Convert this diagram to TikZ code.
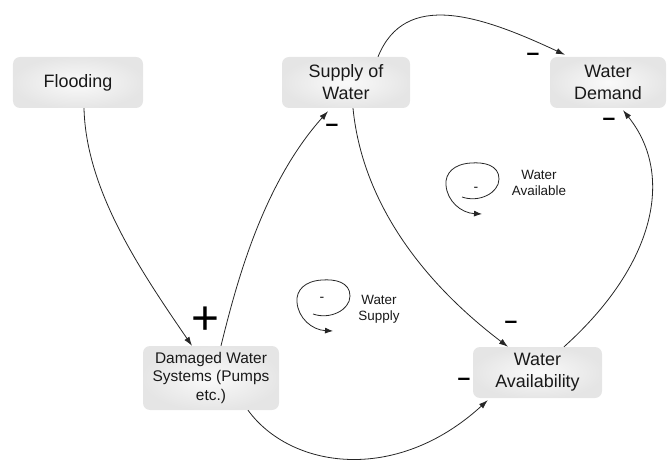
\documentclass[tikz,border=0pt]{standalone}
\usepackage{fontspec}
\setmainfont{Liberation Sans}
\usetikzlibrary{arrows.meta}
\begin{document}
\begin{tikzpicture}[x=1bp,y=-1bp,
  box/.style={rounded corners=7bp, inner color=gray!4, outer color=gray!20, align=center,
    font=\fontsize{18}{22}\selectfont, text=black!90, inner sep=0pt},
  smallbox/.style={box, font=\fontsize{15.5}{18.5}\selectfont},
  link/.style={line width=0.8bp, draw=black!85, -{Latex[length=9bp,width=6bp]}},
  sign/.style={font=\fontsize{23}{23}\selectfont\bfseries, inner sep=0pt, text=black},
  plussign/.style={font=\fontsize{48}{48}\selectfont, inner sep=0pt, text=black},
  looplabel/.style={font=\fontsize{13.5}{16.5}\selectfont, align=center, inner sep=0pt, text=black!90},
  loopminus/.style={font=\fontsize{14}{14}\selectfont, inner sep=0pt, text=black!90},
  loopsym/.pic={
    \draw[line width=0.8bp, draw=black!85, -{Latex[length=8bp,width=6bp]}]
      (-10,14) .. controls (7,20) and (27,10) .. (27,-4)
      .. controls (27,-18) and (12,-21) .. (-1,-20)
      .. controls (-18,-19) and (-27,-10) .. (-26,2)
      .. controls (-25,18) and (-11,30) .. (10,31);
  }
]
\useasboundingbox (0,0) rectangle (668,461);

% nodes
\node[box, minimum width=130bp, minimum height=51bp] (flood) at (78,82.5) {Flooding};
\node[box, minimum width=128bp, minimum height=51bp] (supply) at (346,82.5) {Supply of\\Water};
\node[box, minimum width=116bp, minimum height=51bp] (demand) at (608,82.5) {Water\\Demand};
\node[smallbox, minimum width=136bp, minimum height=64bp] (dam) at (211,378) {Damaged Water\\Systems (Pumps\\etc.)};
\node[box, minimum width=129bp, minimum height=51bp] (avail) at (537.5,372.5) {Water\\Availability};

% connectors
\draw[link] ([xshift=6bp]flood.south) .. controls (86,190) and (140,270) .. ([xshift=-19bp]dam.north);
\draw[link] ([xshift=10bp]dam.north) .. controls (236,285) and (262,185) .. ([xshift=-18bp,yshift=-3bp]supply.south);
\draw[link] ([xshift=32bp]supply.north) .. controls (405,-10) and (480,15) .. ([xshift=-43bp,yshift=2bp]demand.north);
\draw[link] ([xshift=7bp]supply.south) .. controls (362,200) and (420,280) .. ([xshift=-29.5bp]avail.north);
\draw[link] ([xshift=26.5bp]avail.north) .. controls (655,265) and (675,175) .. ([xshift=15bp,yshift=-2bp]demand.south);
\draw[link] ([xshift=37bp]dam.south) .. controls (290,468) and (395,485) .. ([xshift=15bp,yshift=-2bp]avail.south west);

% polarity signs
\node[plussign] (p1) at (205,321) {+};
\node[sign] (m1) at (332,128) {–};
\node[sign] (m2) at (533,57) {–};
\node[sign] (m3) at (609,122) {–};
\node[sign] (m4) at (511,325) {–};
\node[sign] (m5) at (464,382) {–};

% loop symbols
\pic at (323,300) {loopsym};
\node[loopminus] (lm1) at (322,299) {-};
\node[looplabel] (ll1) at (379,309) {Water\\Supply};
\pic at (472,183) {loopsym};
\node[loopminus] (lm2) at (476,189) {-};
\node[looplabel] (ll2) at (539,183) {Water\\Available};
\end{tikzpicture}
\end{document}
